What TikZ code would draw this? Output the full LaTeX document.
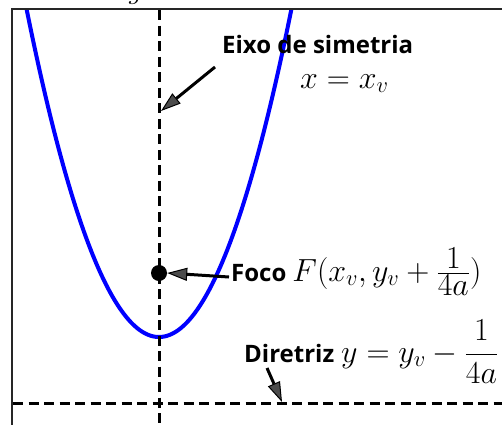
\RequirePackage{fix-cm}
\documentclass[tikz,border=0pt]{standalone}
\usepackage{fontspec}
\usepackage{amsmath}
\newfontfamily\lblfont{Open Sans}
\usetikzlibrary{arrows.meta}
\tikzset{
  frameline/.style={line width=2pt, black!85},
  dashline/.style={line width=3pt, dash pattern=on 10pt off 5.5pt},
  curve/.style={line width=4pt, blue, line cap=round},
  pointer/.style={line width=3pt, -{Triangle[length=20pt,width=13pt,line width=1pt,fill=black!70]}},
  lbl/.style={inner sep=0pt, font=\lblfont\bfseries\fontsize{24}{28}\selectfont},
  mth/.style={inner sep=0pt, font=\fontsize{32}{38}\selectfont},
}
\newcommand{\mathsz}{\fontsize{32}{38}\selectfont\normalfont}
\begin{document}
\begin{tikzpicture}[x=1pt,y=-1pt]
\useasboundingbox (0,0) rectangle (502,424);
% cropped caption fragment above the frame
\node[mth, anchor=base, font=\fontsize{30}{34}\selectfont\itshape] (cap) at (134,-2) {g};
% frame
\draw[frameline] (12,430) -- (12,9) -- (510,9);
% parabola
\begin{scope}
\clip (13,10) rectangle (510,430);
\draw[curve] plot[domain=-1:1, samples=120] ({159+134*\x},{337-335.8*\x*\x});
\end{scope}
% axis and directrix
\coordinate (axtop) at (159,10);
\coordinate (axbot) at (159,430);
\coordinate (dirl) at (13,403);
\coordinate (dirr) at (510,403);
\draw[dashline] (axtop) -- (axbot);
\draw[dashline] (dirl) -- (dirr);
% focus
\node[circle, fill=black, inner sep=0pt, minimum size=16pt] (F) at (159,273) {};
% labels
\node[lbl, anchor=base west] (eixo) at (222,53) {Eixo de simetria};
\node[mth, anchor=base west] (eq) at (300,88) {$x=x_v$};
\node[lbl, anchor=base west] (foco) at (231,281) {Foco\hspace{6pt}{\mathsz$F(x_v,y_v+\frac{\textstyle 1}{\textstyle 4a})$}};
\node[lbl, anchor=base west] (dir) at (244,362) {Diretriz\hspace{7pt}{\mathsz$y=y_v-\dfrac{1}{4a}$}};
% pointers
\coordinate (t1) at (215,67);
\coordinate (h1) at (161,111);
\coordinate (t2) at (229,277);
\coordinate (t3) at (267,368);
\coordinate (h3) at (282,402);
\draw[pointer] (t1) -- (h1);
\draw[pointer] (t2) -- (F.east);
\draw[pointer] (t3) -- (h3);
\end{tikzpicture}
\end{document}
